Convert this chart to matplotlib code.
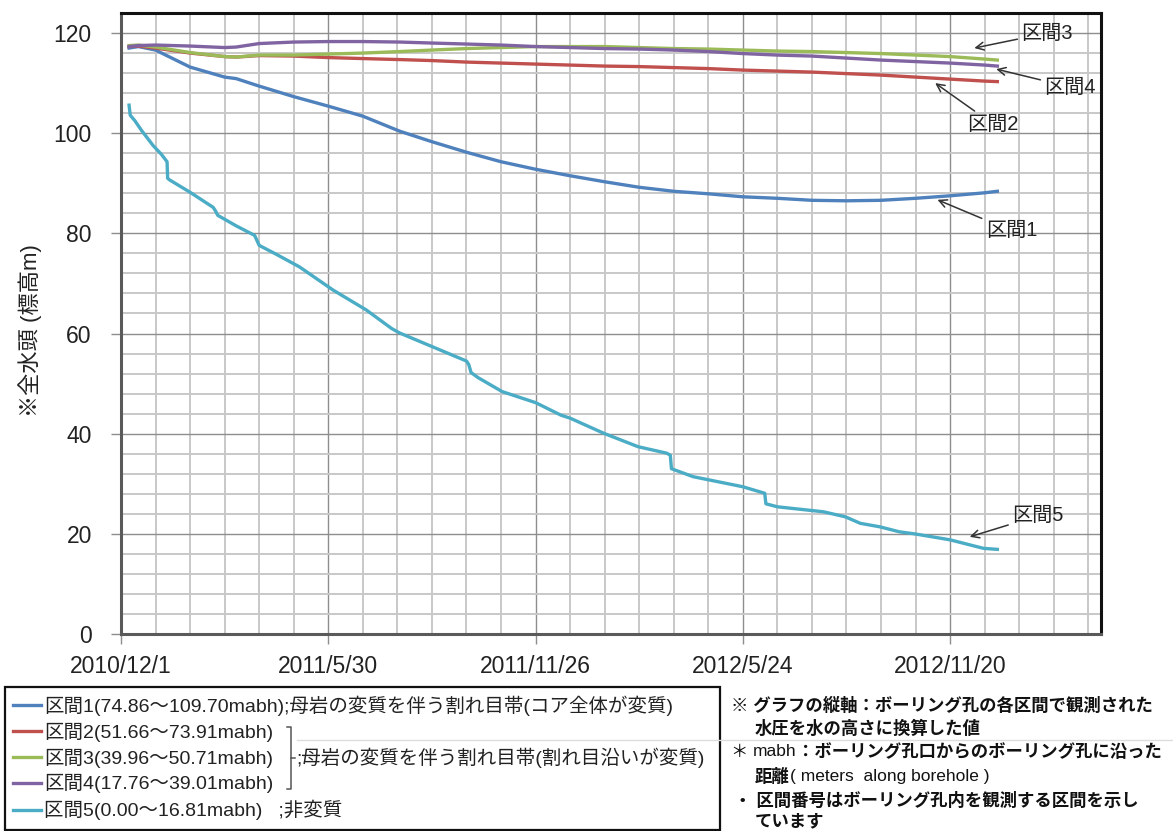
import numpy as np
import matplotlib
matplotlib.use("Agg")
import matplotlib.pyplot as plt
import matplotlib.dates as mdates
from matplotlib.lines import Line2D
from matplotlib.patches import Rectangle
from datetime import datetime, timedelta

plt.rcParams['font.family'] = ['Liberation Sans', 'Noto Sans CJK JP']

# ---- data -------------------------------------------------------------
START = datetime(2010, 12, 1)      # day 0 of the record
END = datetime(2013, 3, 31)        # end of the time axis

# days elapsed since START for intervals 1-4
days = [7, 15, 30, 60, 90, 100, 120, 150, 180, 210, 242, 270, 300, 330, 360,
        390, 420, 450, 480, 510, 540, 570, 600, 630, 660, 690, 720, 750, 761]

head1 = [117.0, 117.3, 116.6, 113.2, 111.2, 110.9, 109.4, 107.3, 105.4, 103.4,
         100.4, 98.3, 96.2, 94.3, 92.8, 91.5, 90.3, 89.2, 88.4, 87.9, 87.3,
         87.0, 86.6, 86.5, 86.6, 87.0, 87.5, 88.1, 88.4]
head2 = [117.3, 117.4, 117.0, 116.0, 115.3, 115.2, 115.5, 115.4, 115.1, 114.9,
         114.7, 114.5, 114.2, 114.0, 113.8, 113.6, 113.4, 113.3, 113.1, 112.9,
         112.6, 112.4, 112.2, 111.9, 111.6, 111.2, 110.8, 110.4, 110.3]
head3 = [117.5, 117.6, 117.2, 116.1, 115.3, 115.2, 115.6, 115.6, 115.8, 116.0,
         116.3, 116.6, 116.9, 117.1, 117.3, 117.3, 117.3, 117.1, 116.9, 116.8,
         116.6, 116.4, 116.3, 116.1, 115.9, 115.6, 115.3, 114.8, 114.6]
head4 = [117.3, 117.5, 117.6, 117.4, 117.1, 117.2, 117.9, 118.2, 118.3, 118.3,
         118.2, 118.0, 117.8, 117.6, 117.3, 117.1, 116.9, 116.8, 116.6, 116.3,
         115.9, 115.6, 115.4, 115.0, 114.6, 114.3, 114.0, 113.6, 113.4]

# interval 5 has abrupt drops, so it carries its own day list
days5 = [7, 8, 12, 18, 22, 28, 35, 40, 40.5, 42, 60, 80, 82, 84, 100, 116, 118,
         120, 135, 155, 184, 213, 235, 242, 270, 300, 302, 304, 310, 331, 360,
         382, 390, 419, 449, 474, 477, 478, 497, 510, 540, 559, 560, 570, 590,
         610, 629, 642, 659, 676, 689, 720, 749, 761]
head5 = [105.6, 103.6, 102.5, 100.5, 99.3, 97.5, 95.8, 94.3, 91.0, 90.7, 88.2,
         85.2, 84.5, 83.6, 81.5, 79.6, 78.6, 77.6, 75.8, 73.3, 68.7, 64.7, 61.0,
         60.1, 57.4, 54.5, 53.8, 52.2, 51.2, 48.4, 46.2, 43.7, 43.1, 40.1, 37.4,
         36.1, 35.7, 33.0, 31.4, 30.8, 29.4, 28.1, 26.0, 25.4, 24.9, 24.4, 23.4,
         22.1, 21.4, 20.4, 20.0, 18.8, 17.1, 16.9]

tick_labels = ["2010/12/1", "2011/5/30", "2011/11/26", "2012/5/24", "2012/11/20"]
y_ticks = [0, 20, 40, 60, 80, 100, 120]

names = ["区間1", "区間2", "区間3", "区間4", "区間5"]
ranges = ["(74.86～109.70mabh)", "(51.66～73.91mabh)", "(39.96～50.71mabh)",
          "(17.76～39.01mabh)", "(0.00～16.81mabh)"]
desc1 = ";母岩の変質を伴う割れ目帯(コア全体が変質)"
desc234 = ";母岩の変質を伴う割れ目帯(割れ目沿いが変質)"
desc5 = ";非変質"
colors = ["#4F81BD", "#C0504D", "#9BBB59", "#8064A2", "#4BACC6"]

# callout arrows: (label, tip day, tip value, text day, text value)
callouts = [("区間3", 741, 117.0, 782, 120.0),
            ("区間4", 760, 112.8, 802, 109.2),
            ("区間2", 707, 110.0, 735, 101.8),
            ("区間1", 709, 86.7, 751, 80.5),
            ("区間5", 737, 19.4, 774, 23.6)]

notes = [
    (731, 705, [("※ グラフの縦軸：ボーリング孔の各区間で観測された", "bold")]),
    (755, 728, [("水圧を水の高さに換算した値", "bold")]),
    (731, 752, [("＊ ", "normal"), ("mabh", "normal"),
                ("：ボーリング孔口からのボーリング孔に沿った", "bold")]),
    (755, 776, [("距離", "bold"), ("( meters  along borehole )", "normal")]),
    (734, 800, [("・ 区間番号はボーリング孔内を観測する区間を示し", "bold")]),
    (755, 822, [("ています", "bold")]),
]

# ---- figure -------------------------------------------------------------
W, H = 1173, 831
fig = plt.figure(figsize=(W / 100, H / 100), dpi=100)
ax = fig.add_axes([121 / W, 1 - 634 / H, 980 / W, 621 / H])


def to_dates(d):
    return [START + timedelta(days=float(v)) for v in d]


series = [head1, head2, head3, head4]
handles = []
for vals, c in zip(series, colors[:4]):
    ln, = ax.plot(to_dates(days), vals, color=c, lw=2.4, solid_joinstyle='round', zorder=3)
    handles.append(ln)
ln5, = ax.plot(to_dates(days5), head5, color=colors[4], lw=2.4, solid_joinstyle='round', zorder=3)
handles.append(ln5)

# axes limits / grid
ax.set_xlim(mdates.date2num(START), mdates.date2num(END))
ax.set_ylim(0, 124)

major_x = [mdates.date2num(datetime.strptime(s, "%Y/%m/%d")) for s in tick_labels]
ax.set_xticks(major_x)
ax.set_xticklabels(tick_labels)
start_num = mdates.date2num(START)
end_num = mdates.date2num(END)
minor_x = np.arange(start_num, end_num, 30)
ax.set_xticks(minor_x, minor=True)
ax.set_yticks(y_ticks)
ax.set_yticks(np.arange(0, 124, 4), minor=True)

ax.grid(which='minor', color='#c8c8c8', lw=1.4, zorder=0)
ax.grid(which='major', color='#8e8e8e', lw=1.0, zorder=1)
ax.set_axisbelow(True)

ax.tick_params(axis='both', which='major', labelsize=16.5, length=7, width=1,
               color='#8e8e8e', labelcolor='#222222')
ax.tick_params(axis='y', which='major', pad=14)
ax.tick_params(axis='x', which='major', pad=8)
ax.tick_params(which='minor', length=0)

for side in ['top', 'right']:
    ax.spines[side].set_color('#111111')
    ax.spines[side].set_linewidth(2.2)
for side in ['left', 'bottom']:
    ax.spines[side].set_color('#5a5a5a')
    ax.spines[side].set_linewidth(2.2)

fig.text(30 / W, 1 - 331 / H, "※全水頭 (標高m)", rotation=90, ha='center',
         va='center', fontsize=16, color='#222222')

# callouts
for label, td, tv, xd, xv in callouts:
    ax.annotate(label, xy=(mdates.date2num(START + timedelta(days=td)), tv),
                xytext=(mdates.date2num(START + timedelta(days=xd)), xv),
                ha='left', va='center', fontsize=14.5, color='#222222',
                arrowprops=dict(arrowstyle='->', color='#333333', lw=1.1,
                                shrinkA=1, shrinkB=0, mutation_scale=14),
                zorder=5)

# ---- legend -------------------------------------------------------------
# frame drawn separately so it also encloses the grouped description
fig.add_artist(Rectangle((5 / W, 1 - 830 / H), 715 / W, 143 / H,
                         transform=fig.transFigure, facecolor='white',
                         edgecolor='#111111', lw=1.6, zorder=1))

labels = [names[0] + ranges[0] + desc1,
          names[1] + ranges[1],
          names[2] + ranges[2],
          names[3] + ranges[3],
          names[4] + ranges[4] + "   " + desc5]
leg = fig.legend(handles, labels, loc='upper left',
                 bbox_to_anchor=(6 / W, 1 - 689 / H), bbox_transform=fig.transFigure,
                 fontsize=14, frameon=False,
                 borderaxespad=0, borderpad=0.35, labelspacing=0.34,
                 handlelength=1.45, handletextpad=0.15)
leg.set_zorder(3)
for t in leg.get_texts():
    t.set_color('#222222')

fig.canvas.draw()
renderer = fig.canvas.get_renderer()
ext = [t.get_window_extent(renderer) for t in leg.get_texts()]


def fig_line(xs, ys, **kw):
    # xs, ys in display pixels (origin bottom-left)
    fig.add_artist(Line2D([x / W for x in xs], [y / H for y in ys],
                          transform=fig.transFigure, **kw))


# bracket grouping intervals 2-4
bx = max(e.x1 for e in ext[1:4]) + 18
top = ext[1].y1 - 4
bot = ext[3].y0 + 4
mid = (ext[2].y0 + ext[2].y1) / 2
kw = dict(color='#555555', lw=1.1, zorder=10)
fig_line([bx - 4, bx, bx, bx - 4], [top, top, bot, bot], **kw)
fig_line([bx, bx + 4], [mid, mid], **kw)
fig.text((bx + 5) / W, mid / H, desc234, fontsize=14, color='#222222',
         ha='left', va='center', zorder=10)

# faint rule crossing the lower panel
fig_line([bx + 6, W], [H - 740, H - 740], color='#dddddd', lw=1.0, zorder=2)

# notes on the right
for x0, y0, runs in notes:
    x = x0
    for s, weight in runs:
        t = fig.text(x / W, 1 - y0 / H, s, fontsize=12.5, fontweight=weight,
                     ha='left', va='center', color='#111111', zorder=10)
        x = t.get_window_extent(renderer).x1

fig.savefig("out.png", dpi=100)
